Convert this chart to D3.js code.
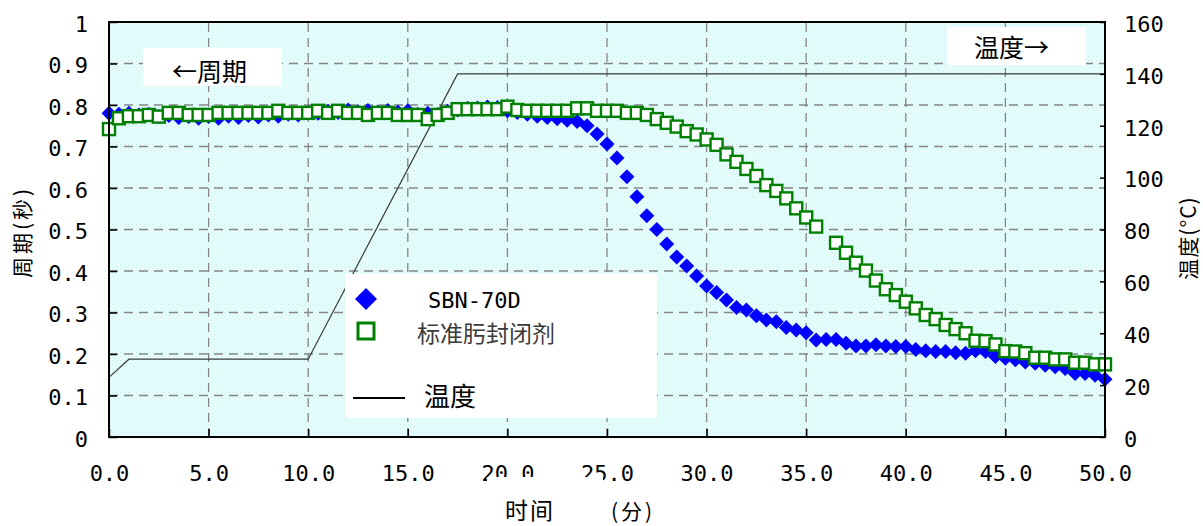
<!DOCTYPE html>
<html>
<head>
<meta charset="utf-8">
<script src="https://cdn.jsdelivr.net/npm/d3@7"></script>
<style>
body { margin: 0; background: #fff; }
svg { display: block; }
</style>
</head>
<body>
<div id="chart"></div>
<script>
// readings every 0.5 min, 0 .. 50
const timeStep = 0.5;

// SBN-70D period (s)
const sbnPeriod = [
    0.780, 0.778, 0.780, 0.776, 0.778, 0.772, 0.775, 0.770, 0.772, 0.768,
    0.772, 0.768, 0.773, 0.770, 0.775, 0.771, 0.776, 0.773, 0.778, 0.776,
    0.782, 0.780, 0.785, 0.782, 0.788, 0.784, 0.787, 0.783, 0.787, 0.783,
    0.786, 0.778, 0.780, 0.777, 0.785, 0.788, 0.792, 0.793, 0.795, 0.794,
    0.786, 0.782, 0.778, 0.773, 0.770, 0.767, 0.763, 0.760, 0.750, 0.730,
    0.706, 0.672, 0.627, 0.579, 0.533, 0.500, 0.465, 0.434, 0.412, 0.388,
    0.364, 0.348, 0.330, 0.312, 0.306, 0.292, 0.282, 0.278, 0.264, 0.258,
    0.251, 0.234, 0.235, 0.235, 0.226, 0.219, 0.219, 0.222, 0.219, 0.218,
    0.218, 0.211, 0.208, 0.206, 0.206, 0.203, 0.202, 0.208, 0.206, 0.194,
    0.190, 0.186, 0.181, 0.178, 0.173, 0.169, 0.165, 0.153, 0.153, 0.149,
    0.139
];

// standard oxime blocking agent period (s), null = no reading
const stdPeriod = [
    0.742, 0.768, 0.773, 0.773, 0.776, 0.772, 0.781, 0.781, 0.776, 0.776,
    0.776, 0.781, 0.781, 0.781, 0.781, 0.781, 0.781, 0.786, 0.781, 0.781,
    0.781, 0.786, 0.781, 0.786, 0.781, 0.781, 0.776, 0.781, 0.781, 0.776,
    0.776, 0.776, 0.766, 0.776, 0.781, 0.790, 0.790, 0.790, 0.790, 0.790,
    0.796, 0.788, 0.786, 0.786, 0.786, 0.786, 0.786, 0.792, 0.792, 0.786,
    0.786, 0.786, 0.781, 0.781, 0.776, 0.766, 0.757, 0.748, 0.737, 0.729,
    0.717, 0.704, 0.681, 0.663, 0.646, 0.629, 0.607, 0.593, 0.575, 0.551,
    0.529, 0.507, null, 0.468, 0.444, 0.420, 0.401, 0.377, 0.356, 0.342,
    0.326, 0.310, 0.294, 0.284, 0.270, 0.260, 0.250, 0.232, 0.231, 0.223,
    0.207, 0.206, 0.202, 0.191, 0.191, 0.187, 0.187, 0.179, 0.179, 0.175,
    0.175
];

// oven temperature profile
const tempTime = [0, 1, 10, 17.5, 50];
const tempValue = [23, 30, 30, 140, 140];

const xTicks = [0, 5, 10, 15, 20, 25, 30, 35, 40, 45, 50];
const periodTicks = [0, 0.1, 0.2, 0.3, 0.4, 0.5, 0.6, 0.7, 0.8, 0.9, 1];
const tempTicks = [0, 20, 40, 60, 80, 100, 120, 140, 160];

const width = 1203, height = 526;
const mono = "'DejaVu Sans Mono', 'Liberation Mono', monospace";
const cjk = "'Noto Sans CJK SC', 'Noto Sans', sans-serif";

const svg = d3.select("#chart").append("svg")
    .attr("width", width)
    .attr("height", height);

const x = d3.scaleLinear().domain([0, 50]).range([109, 1105]);
const yP = d3.scaleLinear().domain([0, 1]).range([437, 22]);
const yT = d3.scaleLinear().domain([0, 160]).range([437, 22]);

// dotted cyan fill of the plot area
const pat = svg.append("defs").append("pattern")
    .attr("id", "dots")
    .attr("width", 4).attr("height", 4)
    .attr("patternUnits", "userSpaceOnUse");
pat.append("rect").attr("width", 4).attr("height", 4).attr("fill", "#e9fcfc");
pat.append("rect").attr("x", 0).attr("y", 0).attr("width", 1).attr("height", 1).attr("fill", "#c6f1f1");
pat.append("rect").attr("x", 2).attr("y", 2).attr("width", 1).attr("height", 1).attr("fill", "#c6f1f1");

svg.append("rect")
    .attr("x", x(0)).attr("y", yP(1))
    .attr("width", x(50) - x(0)).attr("height", yP(0) - yP(1))
    .attr("fill", "url(#dots)");

// grid
const grid = svg.append("g")
    .attr("stroke", "#858585")
    .attr("stroke-width", 1.3)
    .attr("stroke-dasharray", "9,6");
grid.selectAll(".gx")
    .data(xTicks.filter(d => d > 0 && d < 50))
    .enter().append("line")
    .attr("x1", d => x(d)).attr("x2", d => x(d))
    .attr("y1", yP(0)).attr("y2", yP(1));
grid.selectAll(".gy")
    .data(periodTicks.filter(d => d > 0 && d < 1))
    .enter().append("line")
    .attr("x1", x(0)).attr("x2", x(50))
    .attr("y1", d => yP(d)).attr("y2", d => yP(d));

// white text boxes inside the plot
svg.append("rect").attr("x", 143).attr("y", 48).attr("width", 139).attr("height", 38).attr("fill", "#fff");
svg.append("text").attr("x", 172).attr("y", 81)
    .attr("font-family", cjk).attr("font-size", 25)
    .text("←周期");
svg.append("rect").attr("x", 947).attr("y", 27).attr("width", 139).attr("height", 38).attr("fill", "#fff");
svg.append("text").attr("x", 974).attr("y", 57)
    .attr("font-family", cjk).attr("font-size", 25)
    .text("温度→");

// temperature line
const tempPoints = tempTime.map((t, i) => [t, tempValue[i]]);
svg.append("path")
    .datum(tempPoints)
    .attr("fill", "none")
    .attr("stroke", "#3a3a3a")
    .attr("stroke-width", 1.2)
    .attr("d", d3.line().x(d => x(d[0])).y(d => yT(d[1])));

// legend
const legend = svg.append("g");
legend.append("rect").attr("x", 345).attr("y", 274).attr("width", 312).attr("height", 144).attr("fill", "#fff");
legend.append("path")
    .attr("transform", "translate(366,299)")
    .attr("d", "M0,-11L11,0L0,11L-11,0Z")
    .attr("fill", "#0000ff");
legend.append("text").attr("x", 428).attr("y", 308)
    .attr("font-family", mono).attr("font-size", 22)
    .text("SBN-70D");
legend.append("rect")
    .attr("x", 358).attr("y", 323).attr("width", 16).attr("height", 16)
    .attr("fill", "#fff").attr("stroke", "#008000").attr("stroke-width", 3);
legend.append("text").attr("x", 417).attr("y", 342)
    .attr("font-family", cjk).attr("font-size", 23).attr("fill", "#3a3a3a")
    .text("标准肟封闭剂");
legend.append("line")
    .attr("x1", 353).attr("x2", 405).attr("y1", 398).attr("y2", 398)
    .attr("stroke", "#000").attr("stroke-width", 2);
legend.append("text").attr("x", 424).attr("y", 406)
    .attr("font-family", cjk).attr("font-size", 26)
    .text("温度");

// SBN-70D diamonds
svg.append("g").selectAll("path")
    .data(sbnPeriod.map((v, i) => [i * timeStep, v]))
    .enter().append("path")
    .attr("transform", d => "translate(" + x(d[0]) + "," + yP(d[1]) + ")")
    .attr("d", "M0,-7.5L7.5,0L0,7.5L-7.5,0Z")
    .attr("fill", "#0000ff");

// standard agent squares
svg.append("g").selectAll("rect")
    .data(stdPeriod.map((v, i) => [i * timeStep, v]).filter(d => d[1] !== null))
    .enter().append("rect")
    .attr("x", d => x(d[0]) - 6)
    .attr("y", d => yP(d[1]) - 6)
    .attr("width", 12).attr("height", 12)
    .attr("fill", "#fff")
    .attr("stroke", "#008000")
    .attr("stroke-width", 2.4);

// axes
const fmtP = d => (d === 0 || d === 1) ? String(d) : d3.format(".1f")(d);

const axL = svg.append("g")
    .attr("transform", "translate(" + x(0) + ",0)")
    .call(d3.axisLeft(yP).tickValues(periodTicks).tickSize(-8).tickPadding(21).tickFormat(fmtP));
const axB = svg.append("g")
    .attr("transform", "translate(0," + yP(0) + ")")
    .call(d3.axisBottom(x).tickValues(xTicks).tickSize(-8).tickFormat(d3.format(".1f")));
const axR = svg.append("g")
    .attr("transform", "translate(" + x(50) + ",0)")
    .call(d3.axisRight(yT).tickValues(tempTicks).tickSize(-5).tickPadding(19));

[axL, axB, axR].forEach(g => {
    g.select(".domain").remove();
    g.selectAll(".tick line").attr("stroke", "#000").attr("stroke-width", 1.5);
    g.selectAll("text")
        .attr("font-family", mono)
        .attr("font-size", 22)
        .attr("fill", "#000");
});
axL.selectAll("text").attr("dy", "0.42em");
axR.selectAll("text").attr("dy", "0.42em");
axB.selectAll("text").attr("y", 44).attr("dy", null);

// frame
svg.append("rect")
    .attr("x", x(0)).attr("y", yP(1))
    .attr("width", x(50) - x(0)).attr("height", yP(0) - yP(1))
    .attr("fill", "none").attr("stroke", "#000").attr("stroke-width", 2);

// x title box (it hides the lower half of two tick labels)
svg.append("rect").attr("x", 487).attr("y", 477).attr("width", 116).attr("height", 49).attr("fill", "#fff");
svg.append("text").attr("x", 505).attr("y", 519)
    .attr("font-family", cjk).attr("font-size", 23).attr("letter-spacing", 2)
    .text("时间");
svg.append("text").attr("x", 611).attr("y", 519)
    .attr("font-family", cjk).attr("font-size", 21).attr("letter-spacing", 3)
    .text("(分)");

// y titles
svg.append("text")
    .attr("transform", "translate(30,232) rotate(-90)")
    .attr("text-anchor", "middle")
    .attr("font-family", cjk).attr("font-size", 21).attr("letter-spacing", 3)
    .text("周期(秒)");
svg.append("text")
    .attr("transform", "translate(1196,238) rotate(-90)")
    .attr("text-anchor", "middle")
    .attr("font-family", cjk).attr("font-size", 21).attr("letter-spacing", 1)
    .text("温度(°C)");
</script>
</body>
</html>
